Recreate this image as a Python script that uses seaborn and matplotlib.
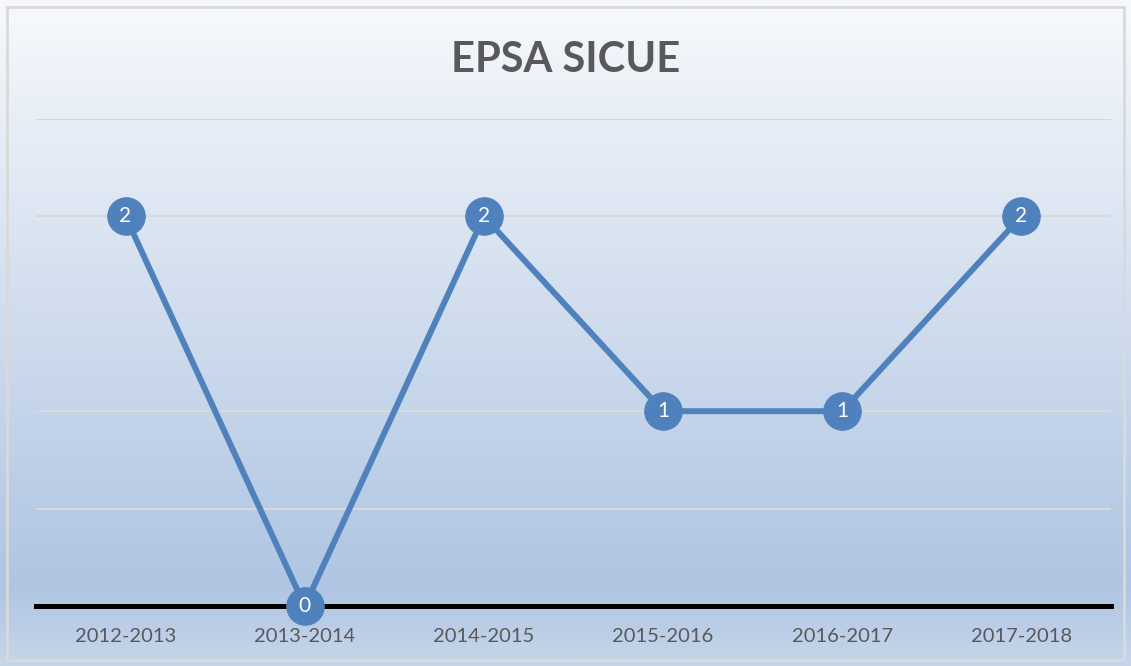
import numpy as np
import pandas as pd
import matplotlib
matplotlib.use("Agg")
import matplotlib.pyplot as plt
from matplotlib.colors import LinearSegmentedColormap
from matplotlib.patches import Rectangle
import seaborn as sns

# ── Data ───────────────────────────────────────────────────
seasons = ["2012-2013", "2013-2014", "2014-2015", "2015-2016", "2016-2017", "2017-2018"]
students = [2, 0, 2, 1, 1, 2]
title = "EPSA SICUE"

BLUE = "#4F81BD"
GREY_TXT = "#595959"

sns.set_theme(style="white")
plt.rcParams["font.family"] = ["Lato", "DejaVu Sans"]

fig = plt.figure(figsize=(11.31, 6.66), dpi=100)

# ── Gradient background ────────────────────────────────────
bg = fig.add_axes([0, 0, 1, 1], zorder=0)
grad_cmap = LinearSegmentedColormap.from_list(
    "bg", [(0.0, "#F7F9FC"), (0.88, "#AFC5E2"), (1.0, "#C6D6EA")])
bg.imshow(np.linspace(0, 1, 256).reshape(-1, 1), aspect="auto", cmap=grad_cmap,
          extent=[0, 1, 0, 1], origin="upper")
bg.add_patch(Rectangle((0.006, 0.009), 0.988, 0.981, fill=False,
                       edgecolor="#D9D9D9", lw=2, transform=bg.transAxes))
bg.set_xlim(0, 1)
bg.set_ylim(0, 1)
bg.axis("off")

# ── Line chart ─────────────────────────────────────────────
ax = fig.add_axes([0.0318, 0.0901, 0.9505, 0.7312], zorder=1)
ax.patch.set_alpha(0)
df = pd.DataFrame({"season": seasons, "students": students})
sns.lineplot(data=df, x="season", y="students", ax=ax, color=BLUE, lw=4.3,
             marker="o", markersize=27, markeredgecolor=BLUE, sort=False,
             zorder=4, clip_on=False)
for i, v in enumerate(students):
    ax.text(i, v, str(v), ha="center", va="center", color="white",
            fontsize=15, zorder=6)

ax.set_xlim(-0.5, len(seasons) - 0.5)
ax.set_ylim(0, 2.5)
ax.set_yticks(np.arange(0.5, 2.51, 0.5))
ax.yaxis.grid(True, color="#D9D9D9", lw=1.5)
ax.set_axisbelow(True)
ax.tick_params(axis="y", left=False, labelleft=False)
ax.tick_params(axis="x", bottom=False, labelsize=14.5, labelcolor=GREY_TXT, pad=10)
ax.set_xlabel("")
ax.set_ylabel("")
for s in ["top", "left", "right"]:
    ax.spines[s].set_visible(False)
ax.spines["bottom"].set_color("black")
ax.spines["bottom"].set_linewidth(3.6)
ax.spines["bottom"].set_zorder(3)

fig.text(0.5, 0.91, title, ha="center", va="center", fontsize=30,
         fontweight="bold", color=GREY_TXT)

plt.savefig("out.png", dpi=100)
plt.close()
